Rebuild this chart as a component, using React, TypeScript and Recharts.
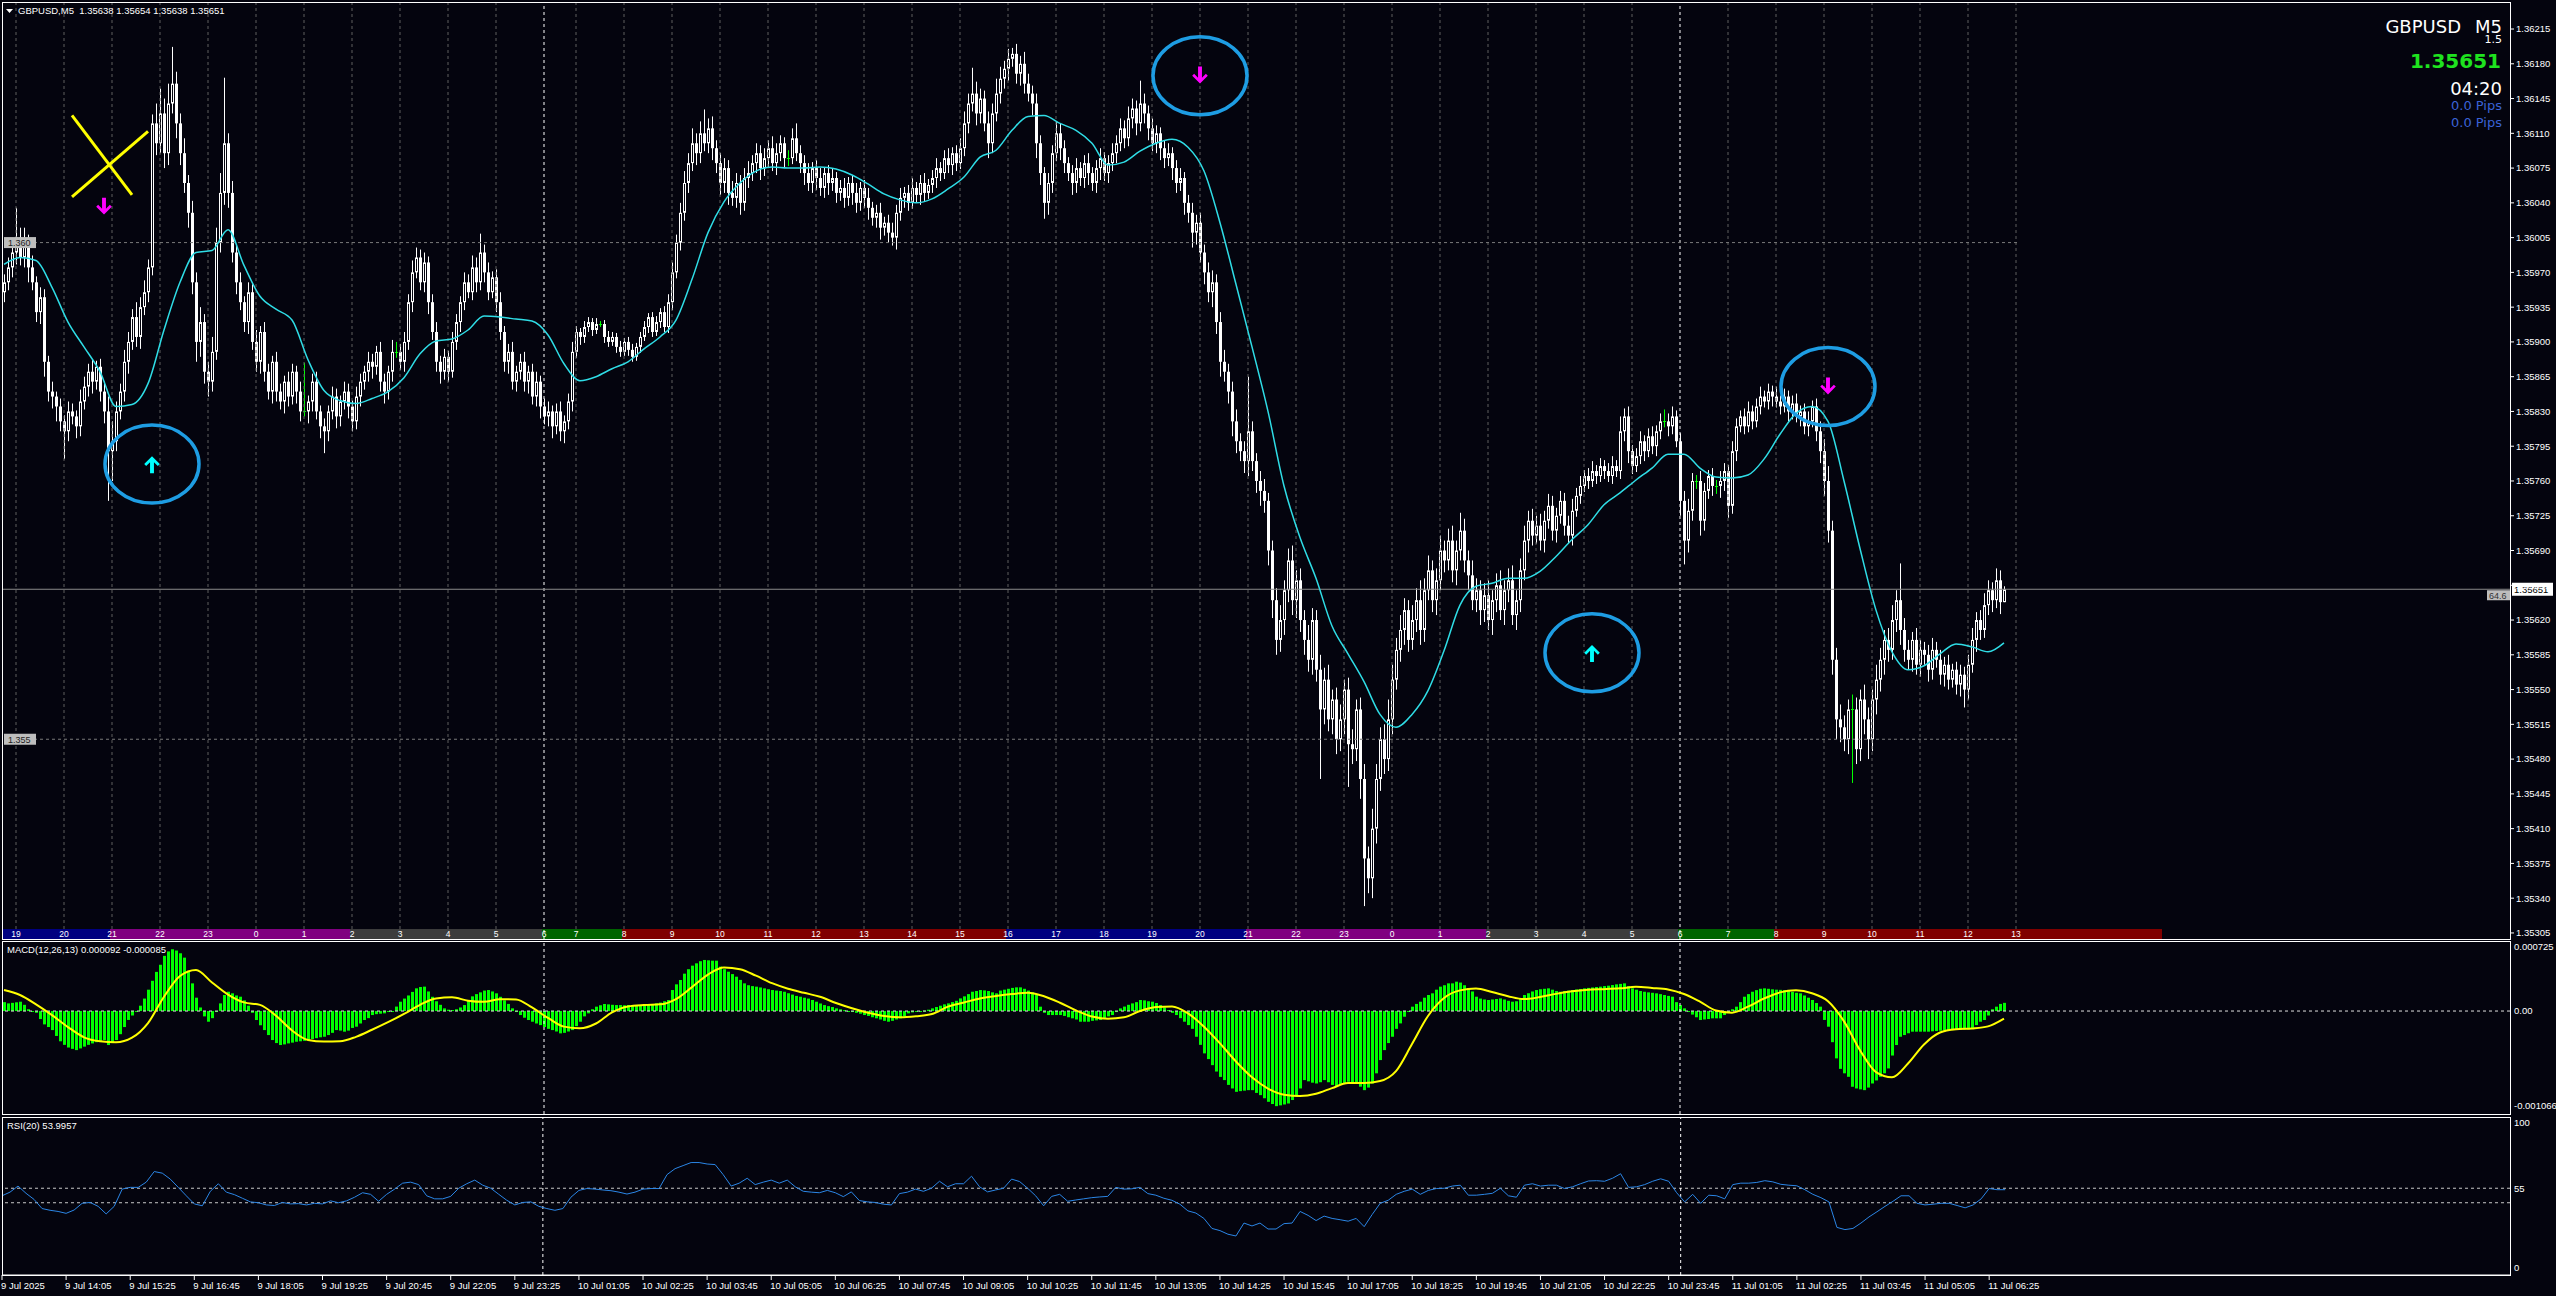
import React from 'react';
import {
  ComposedChart, Bar, Line, XAxis, YAxis, ReferenceLine, ReferenceArea, ReferenceDot,
} from 'recharts';

const W = 2556;
const BG = '#04040e';
const FONT = "'Liberation Sans', Arial, sans-serif";
const INFO_FONT = "'DejaVu Sans', Verdana, sans-serif";
const DOJI = '#00ff00';
const MA_COLOR = '#2fdde6';
const RING = '#1e9de3';

// prices kept in points above 1.35000
const BASE = 1.35;
const px = (pts: number) => BASE + pts / 1e5;

const FIRST_OPEN = 950;
const CLOSE = [
  960, 975, 990, 1005, 985, 1000, 975, 960, 930, 945,
  880, 850, 845, 835, 820, 810, 830, 825, 815, 840,
  855, 870, 860, 875, 850, 830, 790, 800, 830, 850,
  880, 900, 925, 905, 935, 950, 975, 1120, 1100, 1130,
  1090, 1140, 1160, 1120, 1090, 1060, 1030, 960, 900, 920,
  870, 860, 890, 1000, 1050, 1100, 1050, 990, 960, 940,
  920, 950, 900, 880, 910, 870, 850, 880, 850, 840,
  860, 845, 870, 850, 830, 830, 840, 860, 830, 815,
  810, 830, 845, 825, 840, 850, 835, 820, 845, 860,
  870, 880, 875, 890, 860, 850, 870, 890, 890, 880,
  900, 940, 970, 985, 960, 980, 940, 910, 880, 870,
  885, 870, 900, 920, 940, 960, 950, 975, 960, 990,
  970, 950, 965, 940, 910, 880, 890, 860, 870, 880,
  860, 870, 845, 860, 835, 825, 830, 815, 830, 810,
  820, 840, 890, 910, 905, 915, 920, 912, 918, 918,
  905, 900, 905, 895, 890, 900, 892, 885, 895, 905,
  915, 925, 910, 920, 930, 915, 940, 970, 1000, 1030,
  1060, 1080, 1100, 1090, 1110, 1100, 1115, 1095, 1080, 1060,
  1075, 1050, 1045, 1060, 1040, 1065, 1070, 1080, 1090, 1075,
  1085, 1095, 1080, 1090, 1100, 1085, 1085, 1105, 1090, 1080,
  1070, 1060, 1075, 1065, 1055, 1070, 1060, 1065, 1050, 1055,
  1045, 1060, 1050, 1040, 1055, 1045, 1035, 1025, 1030, 1015,
  1020, 1010, 1005, 1030, 1045, 1050, 1040, 1055, 1048, 1060,
  1050, 1058, 1065, 1075, 1070, 1085, 1078, 1090, 1080, 1095,
  1120, 1140, 1150, 1130, 1145, 1120, 1100, 1130, 1150, 1165,
  1175, 1185, 1190, 1170, 1180, 1160, 1150, 1140, 1100, 1070,
  1040, 1060, 1090, 1110, 1095, 1080, 1070, 1060, 1075, 1065,
  1080, 1070, 1060, 1075, 1085, 1070, 1080, 1090, 1100, 1115,
  1105, 1125, 1135, 1120, 1140, 1130, 1115, 1100, 1110, 1095,
  1085, 1090, 1075, 1060, 1065, 1040, 1030, 1010, 1020, 990,
  970, 950, 960, 920, 880, 870, 850, 820, 800, 790,
  780, 810, 780, 760, 750, 740, 690, 640, 600, 620,
  650, 680, 640, 660, 620, 600, 580, 620, 570, 530,
  560, 520, 540, 500, 520, 550, 495, 490, 530, 460,
  380, 360, 410, 460, 500, 480, 520, 560, 590, 610,
  630, 600, 620, 640, 610, 650, 670, 640, 660, 690,
  680, 700, 670, 690, 710, 680, 665, 640, 650, 630,
  645, 620, 640, 655, 630, 650, 660, 625, 640, 670,
  700, 720, 705, 715, 700, 720, 735, 710, 725, 740,
  715, 705, 730, 745, 755, 765, 760, 770, 765, 775,
  770, 765, 775, 770, 810, 825, 790, 775, 785, 800,
  790, 805, 795, 810, 820, 820, 815, 825, 800, 740,
  700, 730, 760, 760, 720, 750, 765, 755, 755, 760,
  770, 735, 790, 815, 825, 815, 830, 820, 835, 845,
  840, 850, 845, 840, 835, 845, 830, 838, 825, 830,
  815, 820, 835, 810, 790, 760, 710, 580, 520, 512,
  500, 530, 530, 490, 540, 520, 500, 540, 560, 580,
  600, 590, 620, 640, 610, 590, 580, 600, 575, 590,
  585, 570, 590, 580, 565, 575, 560, 570, 555, 565,
  550, 575, 600, 620, 610, 635, 650, 640, 660, 638,
  651,
];
// wick lengths above the body / below the body, in points
const WICK_UP = [
  8, 10, 12, 30, 10, 15, 8, 12, 6, 10,
  8, 6, 10, 5, 8, 6, 10, 8, 6, 12,
  10, 8, 12, 6, 8, 10, 15, 20, 10, 8,
  12, 10, 8, 15, 10, 12, 8, 9, 20, 25,
  15, 20, 37, 12, 10, 15, 8, 12, 10, 15,
  8, 10, 15, 15, 20, 66, 10, 12, 8, 10,
  6, 10, 8, 12, 6, 10, 8, 6, 10, 8,
  6, 10, 8, 6, 10, 49, 6, 8, 10, 6,
  8, 6, 10, 8, 6, 10, 8, 6, 10, 8,
  6, 10, 8, 6, 10, 8, 6, 12, 10, 8,
  10, 8, 12, 10, 8, 10, 6, 8, 10, 6,
  8, 6, 10, 8, 6, 10, 8, 12, 10, 19,
  8, 10, 6, 8, 10, 6, 8, 10, 6, 8,
  10, 6, 8, 10, 6, 8, 10, 6, 8, 10,
  6, 8, 10, 6, 4, 6, 5, 4, 6, 3,
  4, 6, 5, 4, 6, 4, 5, 6, 4, 5,
  6, 4, 5, 6, 4, 6, 8, 10, 8, 10,
  12, 10, 15, 10, 12, 24, 10, 12, 8, 10,
  10, 8, 12, 10, 8, 10, 12, 8, 10, 8,
  10, 8, 12, 10, 8, 6, 8, 10, 15, 8,
  8, 10, 6, 8, 10, 6, 8, 10, 6, 8,
  10, 6, 8, 10, 6, 8, 10, 6, 8, 10,
  6, 8, 10, 8, 10, 6, 8, 10, 6, 8,
  10, 6, 8, 10, 6, 8, 10, 6, 8, 10,
  12, 10, 26, 12, 10, 8, 12, 10, 15, 12,
  8, 10, 6, 10, 8, 12, 10, 8, 10, 8,
  6, 10, 8, 12, 10, 8, 6, 8, 10, 6,
  8, 10, 6, 8, 10, 6, 8, 10, 8, 10,
  8, 12, 10, 8, 23, 10, 8, 10, 8, 6,
  8, 10, 6, 8, 10, 6, 8, 10, 8, 10,
  8, 10, 12, 8, 10, 12, 8, 10, 12, 8,
  10, 55, 10, 8, 10, 12, 8, 10, 12, 15,
  10, 12, 15, 10, 12, 10, 15, 12, 10, 15,
  12, 15, 10, 12, 15, 10, 12, 15, 10, 12,
  15, 12, 20, 15, 12, 15, 20, 15, 12, 15,
  12, 10, 15, 12, 20, 12, 15, 10, 12, 15,
  10, 12, 15, 10, 18, 12, 10, 15, 12, 10,
  12, 15, 10, 12, 15, 10, 12, 15, 10, 12,
  15, 10, 12, 10, 12, 10, 12, 10, 8, 10,
  8, 10, 12, 8, 10, 6, 8, 10, 6, 8,
  6, 8, 10, 6, 15, 8, 10, 6, 8, 10,
  6, 8, 10, 6, 8, 12, 8, 10, 6, 8,
  10, 12, 8, 6, 10, 8, 6, 8, 6, 10,
  8, 6, 10, 8, 6, 8, 10, 6, 8, 10,
  6, 8, 6, 10, 6, 8, 6, 8, 10, 6,
  8, 10, 6, 8, 10, 12, 15, 10, 12, 15,
  12, 10, 15, 12, 10, 15, 12, 10, 15, 12,
  10, 12, 15, 10, 37, 12, 10, 8, 12, 10,
  8, 10, 12, 8, 10, 8, 10, 6, 8, 10,
  8, 10, 12, 8, 10, 12, 10, 8, 12, 10,
  3,
];
const WICK_DN = [
  10, 8, 10, 12, 8, 10, 15, 8, 10, 12,
  15, 10, 12, 15, 10, 28, 10, 8, 12, 10,
  8, 10, 12, 8, 10, 12, 50, 30, 10, 8,
  10, 12, 8, 10, 12, 8, 10, 8, 12, 10,
  15, 12, 10, 15, 12, 10, 15, 12, 20, 15,
  12, 15, 10, 8, 10, 12, 15, 10, 12, 8,
  10, 12, 8, 10, 12, 10, 8, 12, 10, 8,
  12, 10, 8, 12, 10, 5, 12, 10, 8, 12,
  22, 10, 8, 12, 10, 8, 12, 10, 8, 10,
  8, 10, 12, 8, 10, 12, 8, 10, 6, 8,
  10, 8, 10, 6, 8, 10, 12, 8, 10, 12,
  8, 10, 6, 8, 10, 8, 6, 8, 10, 8,
  10, 8, 6, 10, 8, 10, 12, 8, 10, 8,
  10, 12, 8, 10, 12, 8, 10, 12, 8, 10,
  12, 8, 10, 6, 8, 6, 5, 6, 4, 3,
  6, 5, 4, 6, 5, 4, 6, 5, 4, 6,
  4, 6, 5, 4, 6, 5, 6, 8, 6, 8,
  8, 10, 8, 12, 10, 8, 10, 12, 10, 12,
  10, 12, 8, 10, 12, 8, 10, 8, 10, 12,
  8, 10, 8, 12, 8, 10, 8, 6, 8, 10,
  12, 8, 10, 12, 8, 10, 12, 8, 10, 8,
  10, 8, 12, 10, 8, 10, 12, 8, 10, 12,
  8, 10, 8, 12, 8, 10, 8, 6, 8, 10,
  8, 6, 8, 10, 8, 6, 8, 10, 8, 6,
  8, 10, 8, 12, 10, 8, 15, 10, 8, 10,
  10, 12, 8, 10, 12, 10, 8, 12, 15, 12,
  16, 12, 10, 8, 12, 10, 8, 12, 10, 8,
  10, 12, 8, 10, 12, 8, 10, 8, 10, 8,
  10, 8, 10, 12, 8, 10, 12, 8, 10, 12,
  10, 8, 12, 10, 8, 12, 10, 15, 12, 10,
  12, 10, 15, 12, 15, 10, 12, 15, 12, 10,
  12, 15, 10, 12, 15, 12, 15, 18, 15, 12,
  15, 12, 15, 18, 12, 15, 12, 15, 12, 70,
  15, 12, 15, 15, 12, 15, 43, 15, 12, 20,
  48, 15, 20, 15, 12, 15, 12, 15, 10, 12,
  15, 12, 10, 12, 15, 12, 10, 12, 15, 10,
  12, 10, 12, 15, 10, 12, 15, 10, 12, 15,
  12, 10, 15, 12, 10, 15, 12, 10, 15, 12,
  10, 12, 10, 8, 10, 12, 8, 10, 12, 8,
  10, 8, 10, 6, 8, 6, 8, 6, 8, 6,
  8, 6, 8, 6, 8, 10, 12, 8, 6, 8,
  10, 6, 8, 10, 8, 6, 10, 8, 6, 15,
  24, 12, 10, 8, 15, 10, 8, 10, 8, 12,
  10, 12, 8, 10, 6, 8, 6, 8, 6, 8,
  6, 8, 10, 6, 8, 6, 10, 8, 6, 10,
  8, 10, 6, 10, 12, 15, 12, 15, 20, 15,
  12, 15, 74, 15, 12, 15, 20, 12, 15, 12,
  15, 12, 10, 12, 15, 12, 10, 12, 10, 12,
  10, 12, 10, 8, 10, 12, 10, 8, 10, 12,
  18, 10, 8, 12, 10, 8, 10, 12, 8, 12,
  0,
];
// moving average, one reading every 4th bar
const MA = [
  978, 985, 982, 955, 920, 895, 870, 835, 837, 858,
  912, 960, 990, 992, 1013, 977, 946, 933, 922, 882,
  851, 841, 838, 843, 850, 864, 888, 901, 903, 912,
  926, 925, 923, 921, 907, 878, 861, 865, 873, 880,
  893, 905, 922, 963, 1010, 1041, 1060, 1072, 1076, 1075,
  1075, 1076, 1074, 1068, 1059, 1049, 1043, 1040, 1044, 1054,
  1066, 1086, 1093, 1113, 1127, 1128, 1120, 1113, 1100, 1078,
  1081, 1092, 1100, 1104, 1096, 1072, 1020, 958, 895, 830,
  755, 703, 662, 614, 586, 558, 525, 512, 525, 549,
  589, 635, 654, 657, 662, 662, 669, 684, 701, 716,
  736, 748, 761, 773, 787, 787, 773, 764, 763, 766,
  782, 807, 828, 835, 820, 760, 692, 630, 588, 570,
  574, 586, 596, 593, 588, 597,
];
// MACD histogram per bar, in 1e-6
const HIST = [
  100, 86, 92, 98, 105, 70, 20, -5, -20, -90,
  -150, -180, -214, -280, -340, -380, -410, -425, -439, -420,
  -400, -380, -364, -350, -335, -326, -382, -360, -326, -260,
  -180, -100, -50, 0, 60, 140, 240, 340, 440, 520,
  620, 670, 694, 680, 649, 600, 450, 311, 150, 40,
  -60, -120, -80, 0, 86, 180, 217, 199, 175, 161,
  120, 60, -20, -101, -160, -214, -270, -326, -360, -382,
  -375, -364, -355, -345, -340, -335, -326, -315, -305, -295,
  -289, -270, -245, -214, -220, -232, -220, -190, -176, -140,
  -101, -80, -45, -35, -30, -26, -10, 0, 50, 105,
  140, 175, 215, 255, 270, 274, 220, 160, 110, 70,
  30, 15, 11, 20, 40, 67, 120, 165, 190, 210,
  230, 236, 220, 199, 160, 120, 80, 30, -10, -45,
  -75, -101, -120, -140, -158, -180, -200, -214, -230, -251,
  -245, -230, -214, -170, -120, -60, -26, 20, 49, 65,
  79, 75, 70, 67, 67, 65, 68, 67, 66, 67,
  67, 70, 75, 86, 95, 110, 124, 236, 300, 349,
  420, 470, 510, 536, 560, 574, 570, 566, 566, 499,
  470, 442, 415, 386, 350, 311, 290, 280, 274, 265,
  255, 245, 236, 230, 225, 217, 200, 185, 170, 161,
  150, 140, 124, 105, 85, 67, 55, 45, 30, 20,
  10, 0, -7, -20, -30, -45, -55, -70, -82, -95,
  -110, -120, -110, -95, -82, -60, -26, -15, -10, -7,
  5, 15, 30, 45, 60, 75, 86, 100, 115, 142,
  165, 190, 217, 225, 236, 232, 225, 210, 199, 230,
  240, 250, 260, 266, 266, 250, 230, 210, 180, 49,
  -20, -45, -45, -45, -45, -55, -70, -82, -95, -120,
  -120, -120, -110, -105, -101, -80, -60, -45, -10, 30,
  50, 70, 86, 100, 124, 120, 110, 105, 90, 67,
  40, 11, -20, -45, -80, -120, -158, -200, -289, -380,
  -476, -540, -608, -680, -740, -776, -830, -870, -908, -900,
  -895, -889, -889, -920, -945, -980, -1020, -1045, -1069, -1060,
  -1050, -1039, -1000, -964, -870, -776, -790, -805, -814, -800,
  -776, -800, -830, -851, -830, -810, -795, -800, -814, -850,
  -889, -860, -814, -700, -551, -439, -360, -289, -200, -139,
  -64, 0, 49, 80, 105, 150, 180, 199, 240, 274,
  290, 311, 311, 330, 320, 290, 255, 220, 161, 140,
  130, 124, 130, 135, 142, 130, 115, 105, 110, 140,
  180, 200, 220, 236, 245, 250, 255, 240, 225, 217,
  225, 230, 236, 242, 248, 255, 260, 265, 270, 274,
  280, 285, 292, 300, 305, 311, 280, 255, 240, 225,
  217, 210, 205, 199, 190, 180, 170, 161, 100, 67,
  30, -7, -40, -70, -101, -95, -90, -82, -82, -82,
  -45, -10, 20, 49, 100, 161, 190, 217, 235, 250,
  255, 250, 244, 240, 238, 236, 225, 215, 205, 199,
  175, 150, 124, 90, 49, -100, -176, -350, -532, -650,
  -700, -739, -851, -870, -880, -889, -860, -814, -780, -739,
  -700, -645, -500, -382, -289, -270, -250, -232, -232, -232,
  -232, -232, -228, -225, -221, -218, -216, -214, -212, -210,
  -208, -206, -190, -158, -120, -101, -50, 20, 49, 80,
  92,
];
// MACD signal, one reading every 4th bar, in 1e-6
const SIGNAL = [
  236, 180, 75, -46, -180, -295, -340, -352, -300, -135,
  160, 394, 461, 321, 185, 97, 69, -53, -218, -325,
  -343, -340, -290, -210, -125, -33, 70, 142, 154, 116,
  103, 133, 130, 40, -78, -175, -194, -140, -15, 52,
  68, 75, 135, 269, 410, 490, 470, 397, 313, 251,
  205, 161, 90, 31, -19, -56, -71, -59, -34, 49,
  96, 142, 169, 191, 206, 166, 93, 7, -62, -86,
  -71, 0, 44, 52, -26, -176, -364, -567, -745, -872,
  -941, -955, -930, -866, -810, -809, -787, -675, -371, -56,
  146, 232, 252, 214, 167, 134, 157, 193, 222, 240,
  246, 255, 272, 260, 243, 191, 105, 6, -18, 49,
  141, 210, 233, 200, 110, -116, -440, -686, -745, -589,
  -375, -241, -205, -196, -172, -85,
];
// RSI(20), one reading every 2nd bar
const RSI = [
  49.8, 52.3, 56.5, 51.5, 47.3, 41, 39.8, 39, 37.7, 40,
  44.6, 45.2, 42.5, 37.3, 42.5, 54.4, 55.6, 55.6, 59.2, 66.5,
  65.4, 61.3, 55.6, 49.8, 44.2, 42.9, 52.9, 58.1, 52.3, 50.6,
  48.1, 45.6, 45, 43.5, 43.1, 45.2, 44.2, 44.4, 43.5, 44.6,
  44.2, 46.3, 45, 46.3, 48.8, 51.9, 50.8, 46, 50.8, 54.4,
  58.5, 59.2, 57.5, 49.8, 47.7, 47.7, 49.4, 55, 58.1, 60.6,
  57.1, 55, 50.8, 46.7, 43.5, 45.2, 45.6, 42.5, 41, 39.8,
  41, 48.8, 53.5, 54.8, 54.4, 53.8, 53.3, 52.3, 51, 52.3,
  54.4, 54.8, 54.8, 64.4, 68.5, 70.6, 72.7, 72.7, 71.7, 71.3,
  64.4, 56.5, 58.5, 61.9, 57.5, 59.2, 60.6, 58.5, 60.6, 56,
  52.9, 52.3, 51.9, 53.5, 51.9, 49.2, 52.5, 46.5, 45.6, 45.2,
  44, 43.5, 51.3, 52.3, 54.4, 52.9, 55, 59.8, 56, 58.1,
  58.1, 63.3, 56, 52.5, 53.8, 55, 61.3, 59.6, 55, 49.8,
  42.9, 49.4, 50.8, 46, 46.9, 47.7, 48.5, 49, 49.4, 55.6,
  54.4, 54.6, 55.6, 51.3, 50.2, 48.1, 46.7, 44, 39.4, 37.9,
  34.2, 27.3, 25.8, 23.3, 22.1, 31, 29, 31, 26.9, 26.9,
  30.6, 31, 39, 36.3, 32.7, 35.8, 34.2, 33.3, 32.3, 34.2,
  28.5, 36.9, 44.6, 46.7, 50.8, 52.9, 54.4, 50.8, 53.5, 54.8,
  55, 56.5, 57.1, 50.2, 50.2, 50.8, 51.5, 55, 49.8, 48.8,
  57.1, 58.1, 56.5, 57.1, 57.1, 54.8, 56, 58.1, 60, 60.2,
  59.8, 61.9, 65, 55.6, 56, 57.5, 59.8, 61.5, 59.8, 51.9,
  45.6, 50.8, 44.6, 50.2, 49.8, 47.7, 57.5, 58.5, 58.5, 59,
  60.2, 59.4, 57.7, 57.1, 56.7, 54, 50.8, 48.5, 45.6, 28,
  26.5, 27.3, 31, 35.2, 38.8, 42.5, 46, 49.8, 49.8, 44.6,
  43.5, 44, 44.6, 44.6, 43.1, 41.5, 43.5, 47.7, 54.8, 54,
  54,
];

const PRICE_TICKS = [
  1.36215, 1.3618, 1.36145, 1.3611, 1.36075, 1.3604, 1.36005, 1.3597, 1.35935,
  1.359, 1.35865, 1.3583, 1.35795, 1.3576, 1.35725, 1.3569, 1.35655, 1.3562,
  1.35585, 1.3555, 1.35515, 1.3548, 1.35445, 1.3541, 1.35375, 1.3534, 1.35305,
];
const LEFT_TICKS = [1.354, 1.355, 1.356, 1.357, 1.358, 1.359, 1.36, 1.361, 1.362];
const LEVELS = [1.36, 1.355];
const MACD_TICKS = [0.000725, 0, -0.001066];
const RSI_TICKS = [0, 45, 55, 100];
const RSI_LEVELS = [55, 45];

const TIME_LABELS = [
  '9 Jul 2025', '9 Jul 14:05', '9 Jul 15:25', '9 Jul 16:45', '9 Jul 18:05', '9 Jul 19:25',
  '9 Jul 20:45', '9 Jul 22:05', '9 Jul 23:25', '10 Jul 01:05', '10 Jul 02:25', '10 Jul 03:45',
  '10 Jul 05:05', '10 Jul 06:25', '10 Jul 07:45', '10 Jul 09:05', '10 Jul 10:25', '10 Jul 11:45',
  '10 Jul 13:05', '10 Jul 14:25', '10 Jul 15:45', '10 Jul 17:05', '10 Jul 18:25', '10 Jul 19:45',
  '10 Jul 21:05', '10 Jul 22:25', '10 Jul 23:45', '11 Jul 01:05', '11 Jul 02:25', '11 Jul 03:45',
  '11 Jul 05:05', '11 Jul 06:25',
];
const TIME_BARS = TIME_LABELS.map((_, k) => k * 16);
const timeAt = new Map(TIME_BARS.map((b, k) => [b, TIME_LABELS[k]]));

const HOUR_LABELS = [
  '19', '20', '21', '22', '23', '0', '1', '2', '3', '4', '5', '6', '7', '8', '9', '10', '11',
  '12', '13', '14', '15', '16', '17', '18', '19', '20', '21', '22', '23', '0', '1', '2', '3',
  '4', '5', '6', '7', '8', '9', '10', '11', '12', '13',
];
const HOUR_BARS = [
  3, 15, 27, 39, 51, 63, 75, 87, 99, 111, 123, 135, 143, 155, 167, 179, 191, 203, 215, 227,
  239, 251, 263, 275, 287, 299, 311, 323, 335, 347, 359, 371, 383, 395, 407, 419, 431, 443,
  455, 467, 479, 491, 503,
];
const DAY_SEPARATORS = [135, 419];
const SESSIONS = [
  { from: 0, to: 27, color: '#000080' },
  { from: 27, to: 87, color: '#800080' },
  { from: 87, to: 135, color: '#3c3c3c' },
  { from: 135, to: 155, color: '#006400' },
  { from: 155, to: 251, color: '#800000' },
  { from: 251, to: 311, color: '#000080' },
  { from: 311, to: 371, color: '#800080' },
  { from: 371, to: 419, color: '#3c3c3c' },
  { from: 419, to: 443, color: '#006400' },
  { from: 443, to: 540, color: '#800000' },
];
// yellow cross drawn on the chart (bar, price points)
const TRENDLINES = [
  [{ i: 17, p: 1128 }, { i: 32, p: 1048 }],
  [{ i: 17, p: 1046 }, { i: 36, p: 1112 }],
];
const MARKERS = [
  { i: 25, p: 1036, dir: 'down', ring: false },
  { i: 37, p: 777, dir: 'up', ring: true },
  { i: 299, p: 1168, dir: 'down', ring: true },
  { i: 456, p: 855, dir: 'down', ring: true },
  { i: 397, p: 587, dir: 'up', ring: true },
];

const SLOTS = 627;
const PRICE_DOMAIN = [1.352989, 1.362422];
const MACD_DOMAIN = [-0.001157, 0.000787];
const RSI_DOMAIN = [-4.8, 104.1];

const rows = Array.from({ length: SLOTS }, (_, i) => {
  const r: any = { i };
  if (i < CLOSE.length) {
    const o = i === 0 ? FIRST_OPEN : CLOSE[i - 1];
    const c = CLOSE[i];
    r.o = px(o);
    r.c = px(c);
    r.hi = px(Math.max(o, c) + WICK_UP[i]);
    r.lo = px(Math.min(o, c) - WICK_DN[i]);
    r.range = [r.lo, r.hi];
    r.hist = HIST[i] / 1e6;
  }
  if (i % 4 === 0 && i / 4 < MA.length) {
    r.ma = px(MA[i / 4]);
    r.sig = SIGNAL[i / 4] / 1e6;
  }
  if (i % 2 === 0 && i / 2 < RSI.length) r.rsi = RSI[i / 2];
  return r;
});
const LAST = px(CLOSE[CLOSE.length - 1]);

function Candle(props: any) {
  const d = props.payload;
  if (!d || d.c == null || props.y == null || isNaN(props.y)) return null;
  const top = Math.min(props.y, props.y + props.height);
  const h = Math.abs(props.height);
  const k = d.hi > d.lo ? h / (d.hi - d.lo) : 0;
  const at = (v: number) => top + (d.hi - v) * k;
  const cx = Math.round(props.x + props.width / 2);
  const yo = at(d.o);
  const yc = at(d.c);
  if (d.o === d.c) {
    const yy = Math.round(yo) + 0.5;
    return (
      <g>
        <line x1={cx + 0.5} x2={cx + 0.5} y1={top} y2={top + h} stroke={DOJI} />
        <line x1={cx - 1} x2={cx + 2} y1={yy} y2={yy} stroke={DOJI} />
      </g>
    );
  }
  const bt = Math.min(yo, yc);
  const bh = Math.max(Math.abs(yc - yo), 1);
  const up = d.c > d.o;
  return (
    <g>
      <line x1={cx + 0.5} x2={cx + 0.5} y1={top} y2={top + h} stroke="#fff" />
      {up
        ? <rect x={cx - 0.5} y={bt + 0.5} width={2} height={Math.max(bh - 1, 0.5)} fill={BG} stroke="#fff" />
        : <rect x={cx - 1} y={bt} width={3} height={bh} fill="#fff" />}
    </g>
  );
}

function HistBar(props: any) {
  if (props.y == null || isNaN(props.y) || props.height == null) return null;
  const top = Math.min(props.y, props.y + props.height);
  const h = Math.abs(props.height);
  return <rect x={Math.round(props.x)} y={top} width={3} height={Math.max(h, 1)} fill="#00ff00" />;
}

const ARROW = 'M-1.5,-7 L1.5,-7 L1.5,1.5 L4.5,-1.5 L6,0 L0,6 L-6,0 L-4.5,-1.5 L-1.5,1.5 Z';

function Marker({ cx, cy, dir, ring }: any) {
  if (cx == null || cy == null) return null;
  const s = dir === 'up' ? '1.3,-1.3' : '1.3,1.3';
  return (
    <g>
      {ring && <ellipse cx={cx} cy={cy} rx={47} ry={39} fill="none" stroke={RING} strokeWidth={3.5} />}
      <path d={ARROW} transform={`translate(${cx},${cy}) scale(${s})`} fill={dir === 'up' ? '#00ffff' : '#ff00ff'} />
    </g>
  );
}

function TimeTick(props: any) {
  const label = timeAt.get(props.payload?.value);
  if (!label) return null;
  return (
    <text x={props.x - 1} y={props.y + 7} fill="#fff" fontSize={9.5} fontFamily={FONT} textAnchor="start">
      {label}
    </text>
  );
}

const axisTick = { fill: '#fff', fontSize: 9.5, fontFamily: FONT };

export default function App() {
  return (
    <div style={{ position: 'relative', width: W, height: 1296, background: BG, overflow: 'hidden' }}>
      <style>{`body{margin:0;background:${BG}}`}</style>

      <div style={{ position: 'absolute', left: 0, top: 0 }}>
        <ComposedChart width={W} height={941} data={rows} margin={{ top: 2, right: 0, bottom: 2, left: 2 }}>
          <XAxis dataKey="i" type="category" hide />
          <YAxis
            yAxisId="p" orientation="right" width={46} domain={PRICE_DOMAIN} ticks={PRICE_TICKS}
            allowDataOverflow tickSize={4} tickMargin={2} axisLine={false}
            tickLine={{ stroke: '#fff' }} tick={axisTick} tickFormatter={(v: number) => v.toFixed(5)}
          />
          <YAxis yAxisId="band" hide domain={[0, 93.7]} allowDataOverflow />
          <YAxis
            yAxisId="l" orientation="left" mirror width={0} domain={PRICE_DOMAIN} ticks={LEFT_TICKS}
            allowDataOverflow tick={false} tickSize={4} axisLine={false} tickLine={{ stroke: '#fff' }}
          />

          {SESSIONS.map((s) => (
            <ReferenceArea
              key={`s${s.from}`} yAxisId="band" x1={s.from} x2={s.to - 1} y1={0} y2={1}
              fill={s.color} fillOpacity={1} stroke="none" ifOverflow="visible"
            />
          ))}
          {HOUR_BARS.filter((b) => !DAY_SEPARATORS.includes(b)).map((b) => (
            <ReferenceLine
              key={`h${b}`} yAxisId="band" segment={[{ x: b, y: 1 }, { x: b, y: 93.7 }]}
              stroke="#5e5e5e" strokeDasharray="3 3"
            />
          ))}
          {DAY_SEPARATORS.map((b) => (
            <ReferenceLine key={`d${b}`} yAxisId="band" x={b} stroke="#fff" strokeDasharray="3 3" />
          ))}
          {HOUR_BARS.map((b, k) => (
            <ReferenceDot
              key={`hl${b}`} yAxisId="band" x={b} y={0.5} ifOverflow="visible"
              shape={(p: any) => (
                <text x={p.cx} y={p.cy + 3} fill="#fff" fontSize={8.5} fontFamily={FONT} textAnchor="middle">
                  {HOUR_LABELS[k]}
                </text>
              )}
            />
          ))}

          {LEVELS.map((lv) => (
            <ReferenceLine
              key={`lv${lv}`} yAxisId="p" segment={[{ x: 0, y: lv }, { x: 504, y: lv }]}
              stroke="#7a7a7a" strokeDasharray="3 3"
            />
          ))}
          <ReferenceLine yAxisId="p" y={LAST} stroke="#8a8a8a" />

          <Bar yAxisId="p" dataKey="range" shape={<Candle />} isAnimationActive={false} />
          <Line
            yAxisId="p" dataKey="ma" stroke={MA_COLOR} strokeWidth={1.5} dot={false}
            connectNulls type="monotone" isAnimationActive={false}
          />

          {TRENDLINES.map((t, k) => (
            <ReferenceLine
              key={`t${k}`} yAxisId="p" ifOverflow="visible"
              segment={[{ x: t[0].i, y: px(t[0].p) }, { x: t[1].i, y: px(t[1].p) }]}
              stroke="#ffff00" strokeWidth={3}
            />
          ))}
          {MARKERS.map((m) => (
            <ReferenceDot
              key={`m${m.i}`} yAxisId="p" x={m.i} y={px(m.p)} ifOverflow="visible"
              shape={(p: any) => <Marker cx={p.cx} cy={p.cy} dir={m.dir} ring={m.ring} />}
            />
          ))}
          {LEVELS.map((lv) => (
            <ReferenceDot
              key={`lb${lv}`} yAxisId="p" x={0} y={lv} ifOverflow="visible"
              shape={(p: any) => (
                <g>
                  <rect x={p.cx} y={p.cy - 5.5} width={32} height={11} fill="#bdbdbd" />
                  <text x={p.cx + 4} y={p.cy + 3.5} fontSize={9} fontFamily={FONT} fill="#222">{lv.toFixed(3)}</text>
                </g>
              )}
            />
          ))}
          <ReferenceDot
            yAxisId="p" x={SLOTS - 1} y={LAST} ifOverflow="visible"
            shape={(p: any) => (
              <g>
                <rect x={p.cx - 21} y={p.cy + 1} width={23} height={10} fill="#bdbdbd" />
                <text x={p.cx - 19} y={p.cy + 9.5} fontSize={9} fontFamily={FONT} fill="#333">64.6</text>
                <rect x={p.cx + 4} y={p.cy - 6.5} width={41} height={13} fill="#fff" />
                <text x={p.cx + 6} y={p.cy + 3.5} fontSize={9.5} fontFamily={FONT} fill="#000">{LAST.toFixed(5)}</text>
              </g>
            )}
          />
        </ComposedChart>
      </div>

      <div style={{ position: 'absolute', left: 0, top: 939 }}>
        <ComposedChart width={W} height={177} data={rows} margin={{ top: 2, right: 0, bottom: 2, left: 2 }}>
          <XAxis dataKey="i" type="category" hide />
          <YAxis
            yAxisId="m" orientation="right" width={46} domain={MACD_DOMAIN} ticks={MACD_TICKS}
            allowDataOverflow tickSize={0} tickMargin={4} axisLine={false} tickLine={false} tick={axisTick}
            tickFormatter={(v: number) => (v === 0 ? '0.00' : v.toFixed(6))}
          />
          <ReferenceLine yAxisId="m" y={0} stroke="#e0e0e0" strokeDasharray="3 3" />
          {DAY_SEPARATORS.map((b) => (
            <ReferenceLine key={`md${b}`} yAxisId="m" x={b} stroke="#fff" strokeDasharray="3 3" />
          ))}
          <Bar yAxisId="m" dataKey="hist" barSize={3} shape={<HistBar />} isAnimationActive={false} />
          <Line
            yAxisId="m" dataKey="sig" stroke="#ffff00" strokeWidth={2} dot={false}
            connectNulls type="monotone" isAnimationActive={false}
          />
        </ComposedChart>
      </div>

      <div style={{ position: 'absolute', left: 0, top: 1115 }}>
        <ComposedChart width={W} height={181} data={rows} margin={{ top: 2, right: 0, bottom: 0, left: 2 }}>
          <XAxis
            dataKey="i" type="category" ticks={TIME_BARS} interval={0} height={21} tickSize={5}
            tickMargin={2} tickLine={{ stroke: '#fff' }} axisLine={{ stroke: '#fff' }} tick={<TimeTick />}
          />
          <YAxis
            yAxisId="r" orientation="right" width={46} domain={RSI_DOMAIN} ticks={RSI_TICKS}
            allowDataOverflow tickSize={0} tickMargin={4} axisLine={false} tickLine={false} tick={axisTick}
          />
          {RSI_LEVELS.map((lv) => (
            <ReferenceLine key={`rl${lv}`} yAxisId="r" y={lv} stroke="#c8c8c8" strokeDasharray="3 3" />
          ))}
          {DAY_SEPARATORS.map((b) => (
            <ReferenceLine key={`rd${b}`} yAxisId="r" x={b} stroke="#fff" strokeDasharray="3 3" />
          ))}
          <Line
            yAxisId="r" dataKey="rsi" stroke="#2b86e6" strokeWidth={1} dot={false}
            connectNulls type="linear" isAnimationActive={false}
          />
        </ComposedChart>
      </div>

      {/* pane frames */}
      <div style={{ position: 'absolute', left: 2, top: 2, width: 2509, height: 938, border: '1px solid #fff', boxSizing: 'border-box', pointerEvents: 'none' }} />
      <div style={{ position: 'absolute', left: 2, top: 941, width: 2509, height: 174, border: '1px solid #fff', boxSizing: 'border-box', pointerEvents: 'none' }} />
      <div style={{ position: 'absolute', left: 2, top: 1117, width: 2509, height: 159, border: '1px solid #fff', boxSizing: 'border-box', pointerEvents: 'none' }} />

      <svg width={W} height={1296} style={{ position: 'absolute', left: 0, top: 0, pointerEvents: 'none' }}>
        <polygon points="6,9 13,9 9.5,13" fill="#fff" />
        <text x={18} y={14} fill="#fff" fontSize={9.5} fontFamily={FONT} style={{ whiteSpace: 'pre' }}>
          GBPUSD,M5  1.35638 1.35654 1.35638 1.35651
        </text>
        <text x={2461} y={33} fill="#fff" fontSize={18} fontFamily={INFO_FONT} textAnchor="end">GBPUSD</text>
        <text x={2502} y={33} fill="#fff" fontSize={18} fontFamily={INFO_FONT} textAnchor="end">M5</text>
        <text x={2502} y={43} fill="#fff" fontSize={11} fontFamily={INFO_FONT} textAnchor="end">1.5</text>
        <text x={2501} y={68} fill="#1fe31f" fontSize={20} fontWeight="bold" fontFamily={INFO_FONT} textAnchor="end">1.35651</text>
        <text x={2502} y={95} fill="#fff" fontSize={18} fontFamily={INFO_FONT} textAnchor="end">04:20</text>
        <text x={2502} y={110} fill="#3a62d6" fontSize={13} fontFamily={INFO_FONT} textAnchor="end">0.0 Pips</text>
        <text x={2502} y={127} fill="#3a62d6" fontSize={13} fontFamily={INFO_FONT} textAnchor="end">0.0 Pips</text>
        <text x={7} y={953} fill="#fff" fontSize={9.5} fontFamily={FONT}>MACD(12,26,13) 0.000092 -0.000085</text>
        <text x={7} y={1129} fill="#fff" fontSize={9.5} fontFamily={FONT}>RSI(20) 53.9957</text>
      </svg>
    </div>
  );
}
